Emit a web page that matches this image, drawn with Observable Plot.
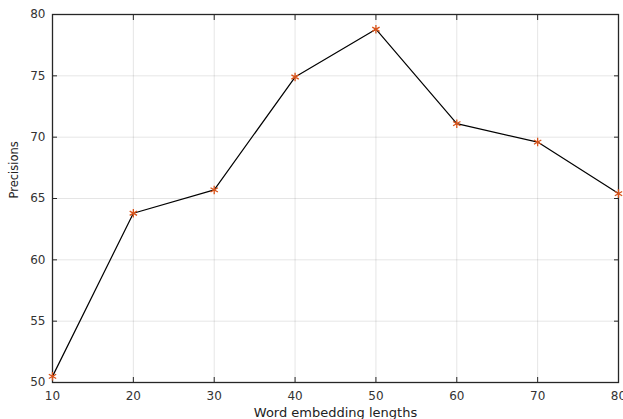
<!DOCTYPE html>
<html><head><meta charset="utf-8">
<script src="https://cdn.jsdelivr.net/npm/d3@7"></script>
<script src="https://cdn.jsdelivr.net/npm/@observablehq/plot@0.6"></script>
<style>body{margin:0;background:#fff;} svg{display:block;}</style>
</head><body><div id="chart"></div>
<script>
const lengths = [10, 20, 30, 40, 50, 60, 70, 80];
const precisions = [50.5, 63.8, 65.7, 74.9, 78.8, 71.1, 69.6, 65.4];
const xTicks = [10, 20, 30, 40, 50, 60, 70, 80];
const yTicks = [50, 55, 60, 65, 70, 75, 80];
const data = lengths.map((x, i) => ({x, y: precisions[i]}));
const axisColor = "#262626";
const chart = Plot.plot({
  width: 623, height: 419,
  marginLeft: 52, marginTop: 14, marginBottom: 37, marginRight: 5,
  style: {fontFamily: "'DejaVu Sans', sans-serif", fontSize: "12px", color: axisColor, background: "#fff"},
  x: {domain: [10, 80]},
  y: {domain: [50, 80]},
  marks: [
    Plot.gridX(xTicks, {stroke: "#000", strokeOpacity: 0.1}),
    Plot.gridY(yTicks, {stroke: "#000", strokeOpacity: 0.1}),
    Plot.axisX(xTicks, {anchor: "bottom", tickSize: -5, tickPadding: 14, label: null, tickFormat: d => d, stroke: axisColor, fill: "#333"}),
    Plot.axisX(xTicks, {anchor: "top", tickSize: -5, tickFormat: () => "", label: null, stroke: axisColor}),
    Plot.axisY(yTicks, {anchor: "left", tickSize: -5, tickPadding: 12, label: null, tickFormat: d => d, stroke: axisColor, fill: "#333"}),
    Plot.axisY(yTicks, {anchor: "right", tickSize: -5, tickFormat: () => "", label: null, stroke: axisColor}),
    Plot.frame({stroke: axisColor, strokeWidth: 1.3}),
    Plot.line(data, {x: "x", y: "y", stroke: "#000", strokeWidth: 1.2}),
    Plot.dot(data, {x: "x", y: "y", symbol: "asterisk", r: 4, stroke: "#D95319", strokeWidth: 1.3}),
    Plot.text(["Word embedding lengths"], {frameAnchor: "bottom", lineAnchor: "middle", dy: 30, fontSize: 13, fill: "#222"}),
    Plot.text(["Precisions"], {frameAnchor: "left", lineAnchor: "middle", dx: -38.5, rotate: -90, fontSize: 11.5, fill: "#222"})
  ]
});
document.getElementById("chart").appendChild(chart);
</script></body></html>
